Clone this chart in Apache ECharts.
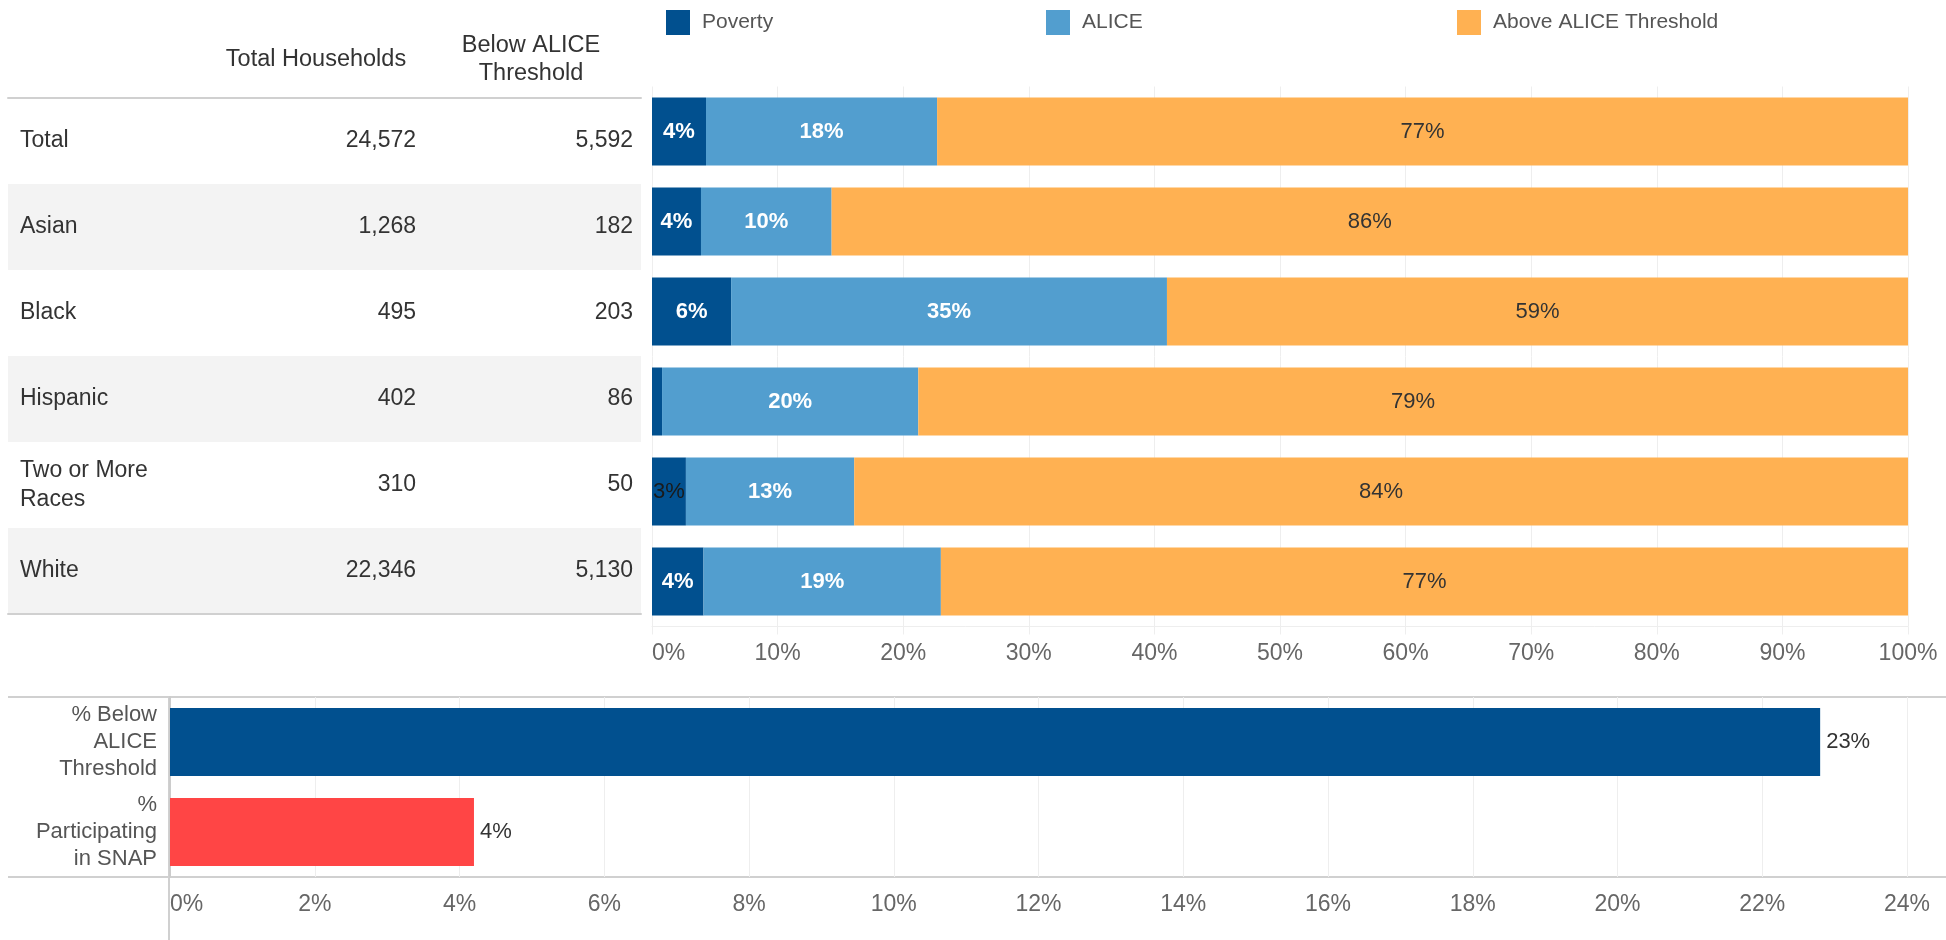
<!DOCTYPE html>
<html>
<head>
<meta charset="utf-8">
<script src="https://cdn.jsdelivr.net/npm/echarts@6/dist/echarts.min.js"></script>
<style>
  html, body { margin: 0; padding: 0; background: #fff; }
  #chart { width: 1946px; height: 940px; }
</style>
</head>
<body>
<div id="chart"></div>
<script>
// 表格 + 堆叠条形图数据
const races = ['Total', 'Asian', 'Black', 'Hispanic', 'Two or More\nRaces', 'White']
const totalHouseholds = [24572, 1268, 495, 402, 310, 22346]
const belowAlice = [5592, 182, 203, 86, 50, 5130]
const povertyPct = [4.3, 3.9, 6.3, 0.8, 2.7, 4.1]
const alicePct = [18.4, 10.4, 34.7, 20.4, 13.4, 18.9]
const abovePct = [77.3, 85.7, 59.0, 78.8, 83.9, 77.0]

// 下方对比图
const snapCats = ['% Below\nALICE\nThreshold', '%\nParticipating\nin SNAP']
const snapPct = [22.8, 4.2]
const snapColors = ['#01508f', '#ff4545']

const FONT = '"Liberation Sans", Arial, sans-serif'
const fmt = n => n.toLocaleString('en-US')
const pct = p => (p.value < 1 ? '' : Math.round(p.value) + '%')

const chart = echarts.init(document.getElementById('chart'))

const bigLabel = {
  show: true,
  position: 'inside',
  formatter: pct,
  fontSize: 22,
  fontFamily: FONT
}

// 表格列（用分类轴的标签画）
const tableAxis = (data, x, align, extra) => Object.assign({
  gridIndex: 2,
  type: 'category',
  inverse: true,
  position: 'left',
  offset: 8 - x,
  data: data,
  axisLine: { show: false },
  axisTick: { show: false },
  axisLabel: { color: '#333', fontSize: 23, align: align, margin: 0 }
}, extra || {})

chart.setOption({
  animation: false,
  textStyle: { fontFamily: FONT },
  legend: [
    { data: ['Poverty'], left: 661, top: 5 },
    { data: ['ALICE'], left: 1041, top: 5 },
    { data: ['Above ALICE Threshold'], left: 1452, top: 5 }
  ].map(l => Object.assign(l, {
    icon: 'rect',
    itemWidth: 24,
    itemHeight: 25,
    itemGap: 10,
    selectedMode: false,
    textStyle: { color: '#555', fontSize: 21, fontFamily: FONT, padding: [0, 0, 0, 7] }
  })),
  grid: [
    { left: 652, right: 38, top: 86.5, height: 540, outerBoundsMode: 'none' },
    { left: 170, right: 39, top: 697, height: 180, outerBoundsMode: 'none' },
    { left: 8, width: 633, top: 98, height: 516, outerBoundsMode: 'none' }
  ],
  xAxis: [
    {
      gridIndex: 0,
      type: 'value',
      min: 0,
      max: 100,
      interval: 10,
      axisLine: { show: true, lineStyle: { color: '#eeeeee' } },
      axisTick: { show: true, length: 8, lineStyle: { color: '#eeeeee' } },
      splitLine: { lineStyle: { color: '#eeeeee' } },
      axisLabel: {
        formatter: '{value}%',
        color: '#666',
        fontSize: 23,
        margin: 16,
        alignMinLabel: 'left'
      }
    },
    {
      gridIndex: 1,
      type: 'value',
      min: 0,
      max: 24,
      interval: 2,
      axisLine: { show: false },
      axisTick: { show: false },
      splitLine: { lineStyle: { color: '#eeeeee' } },
      axisLabel: {
        formatter: '{value}%',
        color: '#666',
        fontSize: 23,
        margin: 16,
        alignMinLabel: 'left'
      }
    },
    {
      gridIndex: 2,
      type: 'value',
      min: 0,
      max: 1,
      position: 'bottom',
      axisLine: { show: true, lineStyle: { color: '#d0d0d0', width: 2 } },
      axisTick: { show: false },
      axisLabel: { show: false },
      splitLine: { show: false }
    },
    {
      gridIndex: 2,
      type: 'value',
      min: 0,
      max: 1,
      position: 'top',
      axisLine: { show: true, lineStyle: { color: '#d0d0d0', width: 2 } },
      axisTick: { show: false },
      axisLabel: { show: false },
      splitLine: { show: false }
    }
  ],
  yAxis: [
    {
      gridIndex: 0,
      type: 'category',
      inverse: true,
      data: races,
      axisLine: { show: false },
      axisTick: { show: false },
      axisLabel: { show: false }
    },
    {
      gridIndex: 1,
      type: 'category',
      inverse: true,
      data: snapCats,
      axisLine: { show: true, lineStyle: { color: '#cccccc', width: 2 } },
      axisTick: { show: false },
      axisLabel: {
        color: '#555',
        fontSize: 22,
        lineHeight: 27,
        margin: 13,
        align: 'right'
      }
    },
    tableAxis(races, 20, 'left', {
      offset: 0,
      splitArea: {
        show: true,
        areaStyle: { color: ['rgba(255,255,255,0)', '#f3f3f3'] }
      },
      axisLabel: { color: '#333', fontSize: 23, lineHeight: 29, align: 'left', margin: -12 }
    }),
    tableAxis(totalHouseholds.map(fmt), 416, 'right'),
    tableAxis(belowAlice.map(fmt), 633, 'right')
  ],
  graphic: [
    {
      type: 'text',
      x: 316,
      y: 60,
      style: {
        text: 'Total Households',
        fill: '#333',
        font: '23.5px ' + FONT,
        align: 'center',
        verticalAlign: 'middle'
      }
    },
    {
      type: 'text',
      x: 531,
      y: 60,
      style: {
        text: 'Below ALICE\nThreshold',
        fill: '#333',
        font: '23.5px ' + FONT,
        lineHeight: 28,
        align: 'center',
        verticalAlign: 'middle'
      }
    },
    {
      type: 'line',
      shape: { x1: 8, y1: 697, x2: 1946, y2: 697 },
      style: { stroke: '#d0d0d0', lineWidth: 2 }
    },
    {
      type: 'line',
      shape: { x1: 8, y1: 877, x2: 1946, y2: 877 },
      style: { stroke: '#d0d0d0', lineWidth: 2 }
    },
    {
      type: 'line',
      shape: { x1: 169, y1: 697, x2: 169, y2: 940 },
      style: { stroke: '#d0d0d0', lineWidth: 2 }
    }
  ],
  series: [
    {
      name: 'Poverty',
      type: 'bar',
      stack: 'race',
      xAxisIndex: 0,
      yAxisIndex: 0,
      barWidth: 68,
      itemStyle: { color: '#01508f' },
      label: Object.assign({}, bigLabel, { color: '#fff', fontWeight: 'bold' }),
      data: povertyPct.map(v => (v < 3 ? { value: v, label: { color: '#1a1a1a', fontWeight: 'normal' } } : v))
    },
    {
      name: 'ALICE',
      type: 'bar',
      stack: 'race',
      xAxisIndex: 0,
      yAxisIndex: 0,
      barWidth: 68,
      itemStyle: { color: '#529ecf' },
      label: Object.assign({}, bigLabel, { color: '#fff', fontWeight: 'bold' }),
      data: alicePct
    },
    {
      name: 'Above ALICE Threshold',
      type: 'bar',
      stack: 'race',
      xAxisIndex: 0,
      yAxisIndex: 0,
      barWidth: 68,
      itemStyle: { color: '#ffb152' },
      label: Object.assign({}, bigLabel, { color: '#333' }),
      data: abovePct
    },
    {
      name: 'snap',
      type: 'bar',
      xAxisIndex: 1,
      yAxisIndex: 1,
      barWidth: 68,
      itemStyle: {
        color: p => snapColors[p.dataIndex]
      },
      label: {
        show: true,
        position: 'right',
        distance: 6,
        formatter: p => Math.round(p.value) + '%',
        color: '#333',
        fontSize: 22,
        fontFamily: FONT
      },
      data: snapPct
    }
  ]
})
</script>
</body>
</html>
